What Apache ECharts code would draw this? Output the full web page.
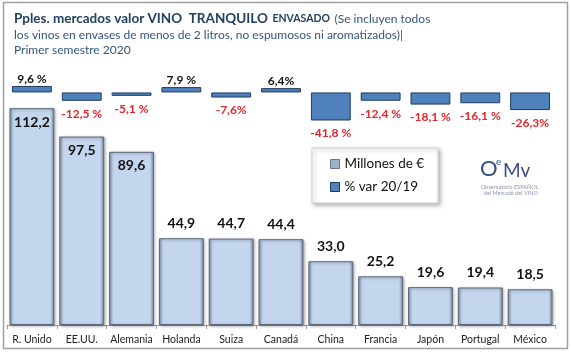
<!DOCTYPE html>
<html>
<head>
<meta charset="utf-8">
<style>
  html, body { margin: 0; padding: 0; background: #fff; }
  #chart { width: 571px; height: 352px; }
</style>
<script src="https://cdn.jsdelivr.net/npm/echarts@6/dist/echarts.min.js"></script>
</head>
<body>
<div id="chart"></div>
<script>
// mercados y datos (primer semestre 2020)
const paises = ['R. Unido', 'EE.UU.', 'Alemania', 'Holanda', 'Suiza', 'Canadá', 'China', 'Francia', 'Japón', 'Portugal', 'México']
// millones de euros
const millones = [112.2, 97.5, 89.6, 44.9, 44.7, 44.4, 33.0, 25.2, 19.6, 19.4, 18.5]
// % variación 20/19
const variacion = [9.6, -12.5, -5.1, 7.9, -7.6, 6.4, -41.8, -12.4, -18.1, -16.1, -26.3]
const varLabels = ['9,6 %', '-12,5 %', '-5,1 %', '7,9 %', '-7,6%', '6,4%', '-41,8 %', '-12,4 %', '-18,1 %', '-16,1 %', '-26,3%']

const chart = echarts.init(document.getElementById('chart'))
const font = 'Lato, "Open Sans", sans-serif'

// relleno con bisel de las barras grandes
const barFill = new echarts.graphic.LinearGradient(0, 0, 1, 0, [
  { offset: 0, color: '#8b9bb2' },
  { offset: 0.09, color: '#c3d6ee' },
  { offset: 0.91, color: '#c3d6ee' },
  { offset: 1, color: '#7d8ca2' }
])

const option = {
  backgroundColor: '#fff',
  textStyle: { fontFamily: font },
  title: {
    left: 9,
    top: 5,
    text: '{b|Pples. mercados valor VINO  TRANQUILO} {s|ENVASADO} {n|(Se incluyen todos}\n{n|los vinos en envases de menos de 2 litros, no espumosos ni aromatizados)|}\n{n|Primer semestre 2020}',
    textStyle: {
      fontWeight: 'normal',
      rich: {
        b: { fontSize: 13.5, fontWeight: 'bold', color: '#23405f', fontFamily: font, lineHeight: 17 },
        s: { fontSize: 10.5, fontWeight: 'bold', color: '#23405f', fontFamily: font, lineHeight: 17 },
        n: { fontSize: 12, fontWeight: 'normal', color: '#34557d', fontFamily: font, lineHeight: 15 }
      }
    }
  },
  legend: {
    orient: 'vertical',
    left: 312,
    top: 148,
    padding: [9, 14, 9, 18],
    itemGap: 9,
    itemWidth: 9,
    itemHeight: 9,
    backgroundColor: '#fff',
    borderColor: '#d0d0d0',
    borderWidth: 1,
    shadowColor: 'rgba(0,0,0,0.3)',
    shadowBlur: 4,
    shadowOffsetX: 2,
    shadowOffsetY: 2,
    textStyle: { fontSize: 13.5, color: '#111', fontFamily: font },
    data: [
      { name: 'Millones de €', icon: 'rect', itemStyle: { color: '#9fb0c8', borderColor: '#6b7a90', borderWidth: 1 } },
      { name: '% var 20/19', icon: 'rect', itemStyle: { color: '#4f81bd', borderColor: '#1f3b5e', borderWidth: 1 } }
    ]
  },
  grid: [
    { left: 7, right: 16, top: 95, bottom: 27 },
    { left: 7, right: 16, top: 79, height: 47 }
  ],
  xAxis: [
    {
      type: 'category',
      gridIndex: 0,
      data: paises,
      axisLine: { lineStyle: { color: '#999' } },
      axisTick: { show: true, length: 4, lineStyle: { color: '#999' } },
      axisLabel: { color: '#222', fontSize: 10.5, margin: 9, fontFamily: font, interval: 0 }
    },
    {
      type: 'category',
      gridIndex: 1,
      data: paises,
      show: false
    }
  ],
  yAxis: [
    { type: 'value', gridIndex: 0, min: 0, max: 119, show: false },
    { type: 'value', gridIndex: 1, min: -50, max: 20, show: false }
  ],
  series: [
    {
      name: 'Millones de €',
      type: 'bar',
      xAxisIndex: 0,
      yAxisIndex: 0,
      barCategoryGap: '10%',
      data: millones.map(v => ({
        value: v,
        label: v > 60 ? { position: 'insideTop', distance: 7 } : { position: 'top', distance: 8 }
      })),
      itemStyle: {
        color: barFill,
        borderColor: '#5c6879',
        borderWidth: 1,
        shadowColor: 'rgba(0,0,0,0.35)',
        shadowBlur: 3,
        shadowOffsetX: 1,
        shadowOffsetY: 1
      },
      label: {
        show: true,
        fontSize: 14,
        fontWeight: 'bold',
        color: '#111',
        fontFamily: font,
        formatter: p => p.value.toFixed(1).replace('.', ',')
      }
    },
    {
      name: '% var 20/19',
      type: 'bar',
      xAxisIndex: 1,
      yAxisIndex: 1,
      barCategoryGap: '20%',
      data: variacion.map(v => ({
        value: v,
        label: v >= 0
          ? { position: 'top', distance: 1, color: '#111' }
          : { position: 'bottom', distance: 7, color: '#e3262b' }
      })),
      itemStyle: { color: '#4f81bd', borderColor: '#1f3b5e', borderWidth: 1 },
      label: {
        show: true,
        fontSize: 12,
        fontWeight: 'bold',
        fontFamily: font,
        formatter: p => varLabels[p.dataIndex]
      }
    }
  ],
  graphic: [
    // marco exterior
    {
      type: 'rect',
      shape: { x: 3.5, y: 2.5, width: 564, height: 346 },
      style: { fill: 'none', stroke: '#a0a0a0', lineWidth: 1.5 },
      silent: true
    },
    // logo OeMv
    {
      type: 'text',
      left: 480,
      top: 158,
      style: { text: 'O', fontSize: 22, fill: '#3a4c86', fontFamily: font }
    },
    {
      type: 'text',
      left: 496,
      top: 157,
      style: { text: 'e', fontSize: 10, fill: '#3a4c86', fontFamily: font }
    },
    {
      type: 'text',
      left: 503,
      top: 161,
      style: { text: 'Mv', fontSize: 19, fill: '#3a4c86', fontFamily: font }
    },
    {
      type: 'text',
      left: 481,
      top: 184,
      style: { text: 'Observatorio ESPAÑOL\n  del Mercado del VINO', fontSize: 5.5, lineHeight: 6, fill: '#9095ad', fontFamily: font }
    }
  ]
}

chart.setOption(option)
</script>
</body>
</html>
